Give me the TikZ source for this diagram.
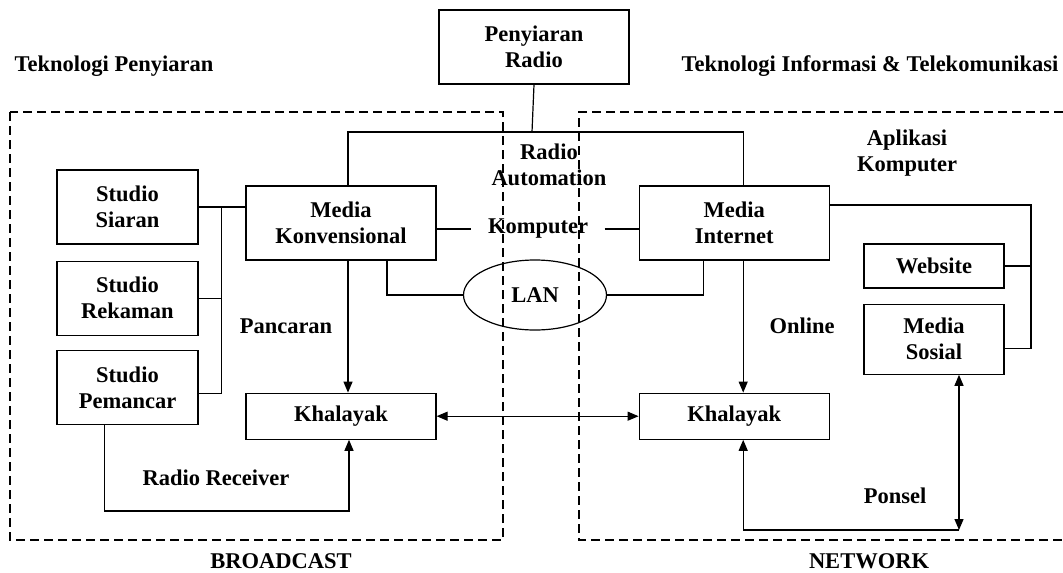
\documentclass[tikz,border=0pt]{standalone}
\usepackage{fontspec}
\setmainfont{Liberation Serif}
\usetikzlibrary{shapes,arrows.meta,positioning}
\tikzstyle{Block} = [draw, rectangle, align=center, inner sep=0pt, minimum height=74pt, minimum width=190pt]
\tikzstyle{Small} = [Block, minimum width=141pt]
\tikzstyle{Flat} = [Block, minimum height=46pt]
\tikzstyle{Text} = [rectangle, align=center, inner sep=1pt]
\tikzstyle{Zone} = [dash pattern=on 9pt off 5pt]

\begin{document}
\begin{tikzpicture}[x=1pt, y=-1pt, line width=1.2pt,
    font=\fontsize{22.5}{26}\selectfont\bfseries,
    >={Triangle[length=11pt,width=9pt]}]
    \useasboundingbox (0,0) rectangle (1063,573);
    % zones
    \draw[Zone] (10,112) rectangle (503,540);
    \draw[Zone] (1063,112) -- (579,112) -- (579,540) -- (1063,540);
    \node[Text] (tpenyiaran) at (114,66)  {Teknologi Penyiaran};
    \node[Text] (tinfo)      at (870,66)  {Teknologi Informasi \& Telekomunikasi};
    \node[Text] (broadcast)  at (281,561) {BROADCAST};
    \node[Text] (network)    at (869,561) {NETWORK};
    % blocks
    \node[Block] (radio)    at (534,47)              {Penyiaran\\Radio};
    \node[Block] (konv)     at (341,223)             {Media\\Konvensional};
    \node[Block] (internet) [right=202pt of konv]    {Media\\Internet};
    \node[Flat]  (khal1)    [below=132pt of konv]    {Khalayak};
    \node[Flat]  (khal2)    [below=132pt of internet] {Khalayak};
    \node[Small] (siaran)   at (127.5,207)           {Studio\\Siaran};
    \node[Small] (rekaman)  [below=16pt of siaran]   {Studio\\Rekaman};
    \node[Small] (pemancar) [below=14pt of rekaman]  {Studio\\Pemancar};
    \node[Block, minimum width=140pt, minimum height=44pt] (website) at (934,266) {Website};
    \node[Block, minimum width=140pt, minimum height=70pt] (sosial) [below=15pt of website] {Media\\Sosial};
    \node[draw, ellipse, minimum width=143pt, minimum height=70pt] (lan) at (535,295) {LAN};
    % labels
    \node[Text] (automation) at (549,165) {Radio\\Automation};
    \node[Text, inner xsep=16pt] (komputer) at (538,229) {Komputer};
    \node[Text] (pancaran)   at (286,326) {Pancaran};
    \node[Text] (online)     at (802,326) {Online};
    \node[Text] (receiver)   at (216,478) {Radio Receiver};
    \node[Text] (ponsel)     at (895,496) {Ponsel};
    \node[Text] (aplikasi)   at (907,153) {Aplikasi\\Komputer};
    % connectors
    \coordinate (top) at (532,132);
    \draw (radio.south) -- (top);
    \draw ([xshift=7pt]konv.north) |- (top) -| ([xshift=9pt]internet.north);
    \draw (konv.east |- komputer.west) -- (komputer.west);
    \draw (komputer.east) -- (komputer.east -| internet.west);
    \draw ([xshift=46pt]konv.south) |- (lan.west);
    \draw (lan.east) -| ([xshift=-31pt]internet.south);
    \coordinate (bus) at ([xshift=23pt]siaran.east);
    \draw (siaran.east) -- (siaran.east -| konv.west);
    \draw (bus) |- ([yshift=-6pt]pemancar.east);
    \draw (rekaman.east) -- (rekaman.east -| bus);
    \draw[->] ([xshift=7pt]konv.south) -- ([xshift=7pt]khal1.north);
    \draw[<->] (khal1.east) -- (khal2.west);
    \coordinate (rcv) at (349,511);
    \draw[->] ([xshift=-23pt]pemancar.south) |- (rcv) -- (rcv |- khal1.south);
    \draw[->] ([xshift=9pt]internet.south) -- ([xshift=9pt]khal2.north);
    \coordinate (apl) at (1031,205);
    \draw ([yshift=18pt]internet.east) -- (apl) |- ([yshift=-9pt]sosial.east);
    \draw (website.east) -- (website.east -| apl);
    \coordinate (hp) at (959,530);
    \draw[<->] (sosial.south -| hp) -- (hp);
    \draw[->] (hp) -| ([xshift=9pt]khal2.south);
\end{tikzpicture}
\end{document}
